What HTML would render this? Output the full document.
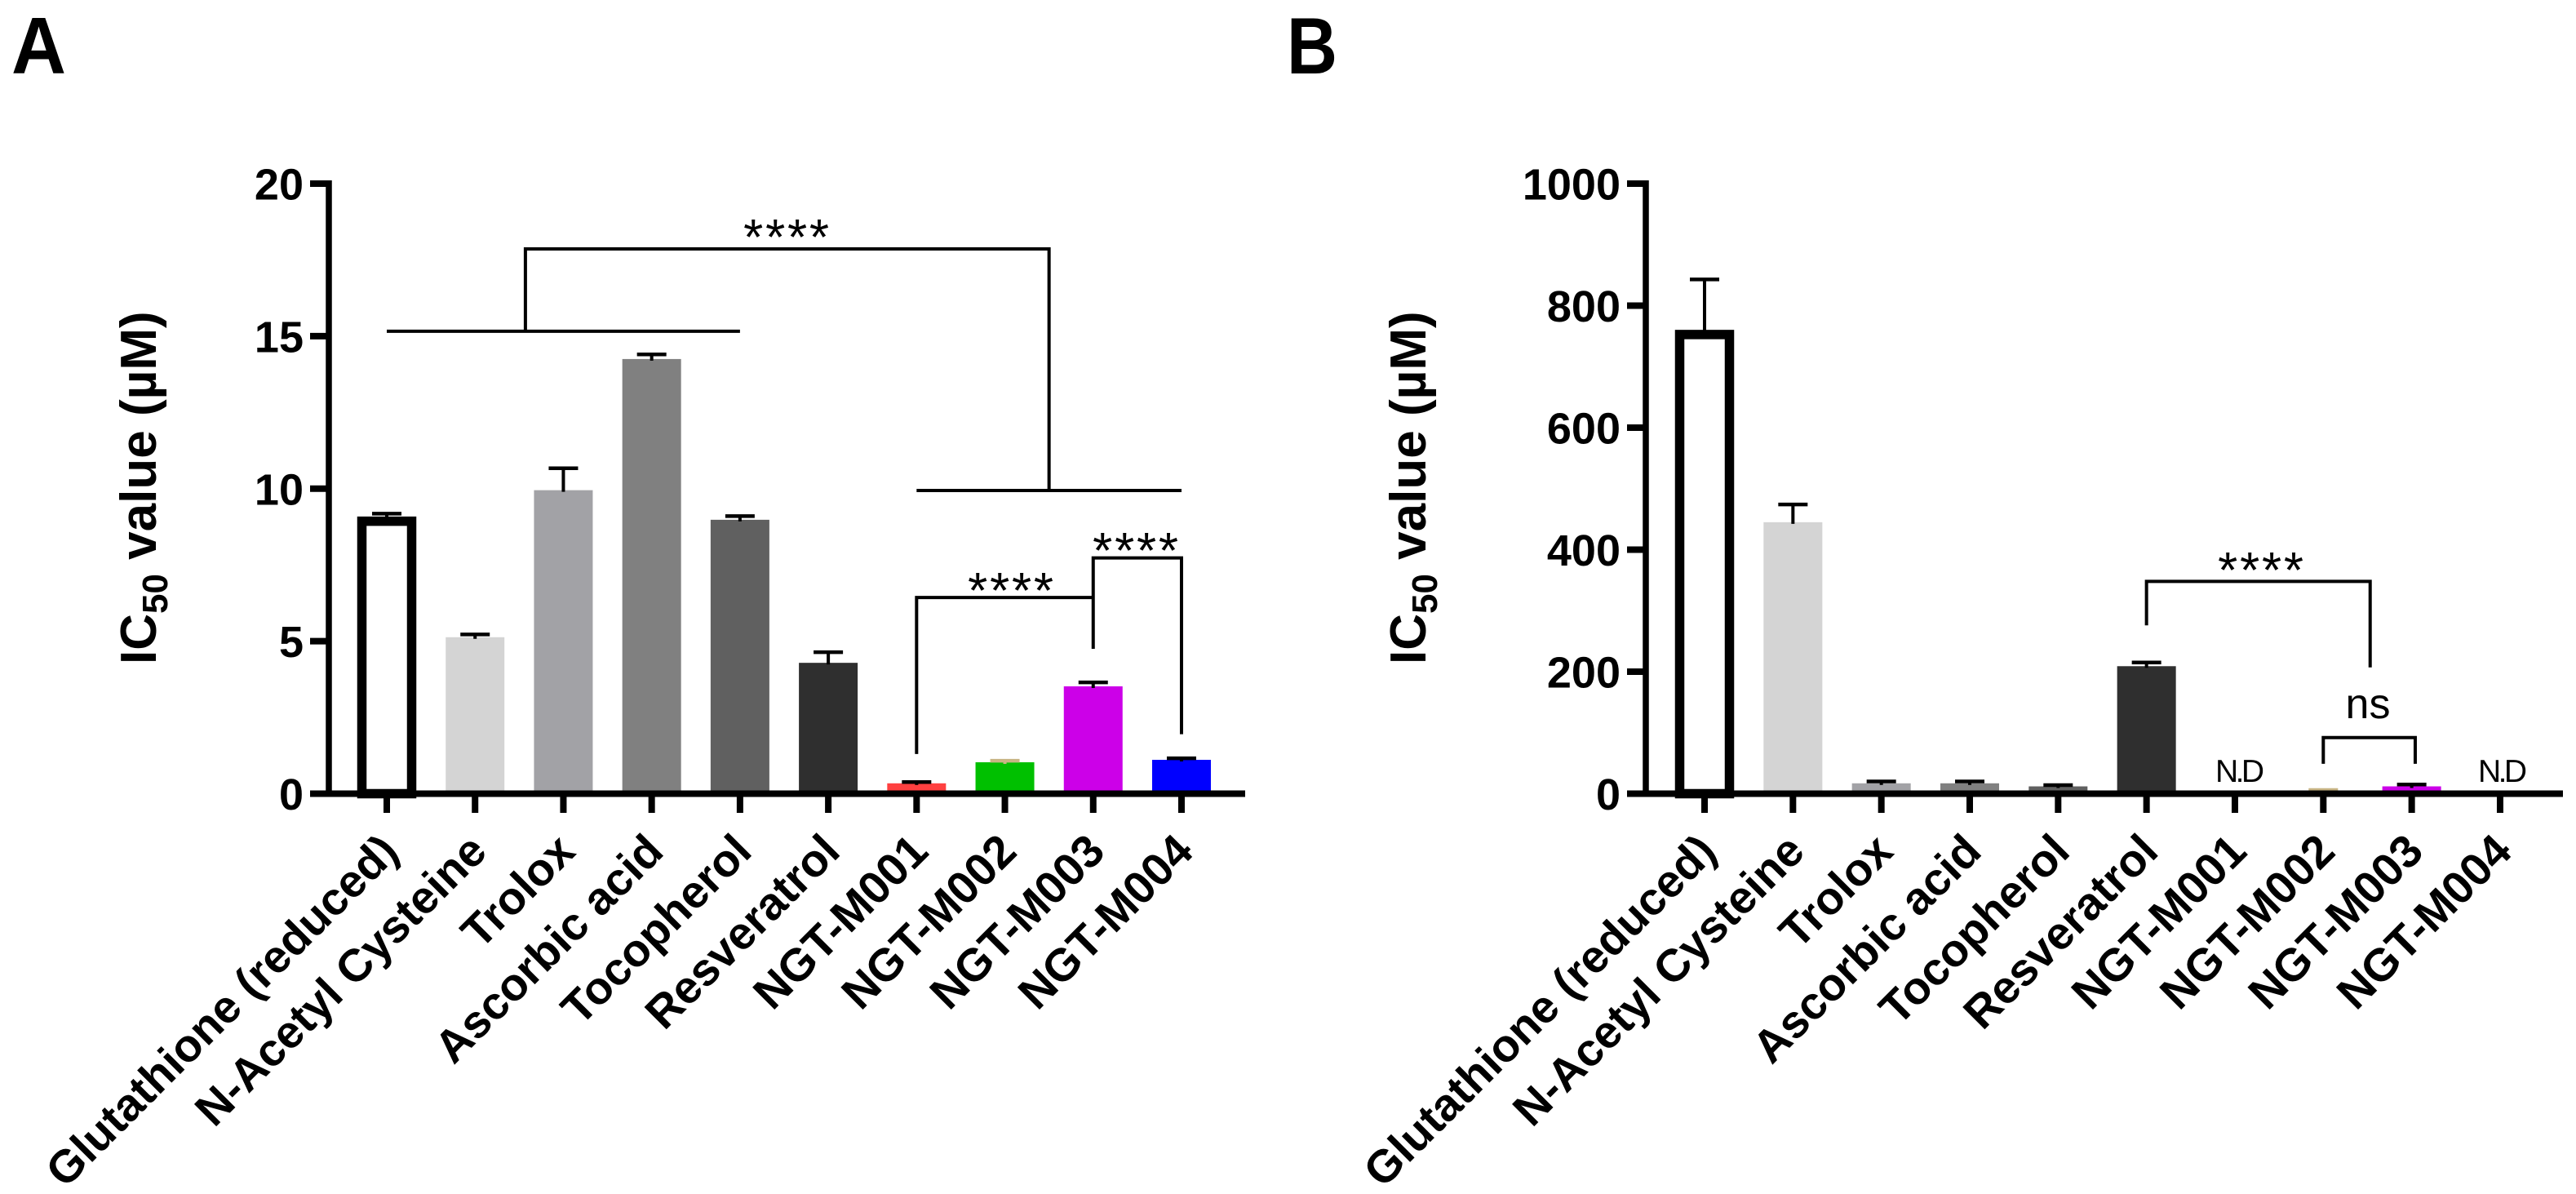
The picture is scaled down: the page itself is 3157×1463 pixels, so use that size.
<!DOCTYPE html>
<html lang="en">
<head>
<meta charset="utf-8">
<title>IC50 value charts</title>
<style>
html,body{margin:0;padding:0;background:#fff;}
svg{display:block;}
text{font-family:"Liberation Sans",Arial,sans-serif;fill:#000;}
</style>
</head>
<body>
<svg id="figure" xmlns="http://www.w3.org/2000/svg" width="3157" height="1463" viewBox="0 0 3157 1463">
<rect x="0" y="0" width="3157" height="1463" fill="#ffffff"/>
<text x="14" y="90" font-size="98" font-weight="700" textLength="67" lengthAdjust="spacingAndGlyphs">A</text>
<text x="1577" y="90" font-size="98" font-weight="700" textLength="62" lengthAdjust="spacingAndGlyphs">B</text>
</svg>
<script>
const categories = ["Glutathione (reduced)", "N-Acetyl Cysteine", "Trolox", "Ascorbic acid", "Tocopherol", "Resveratrol", "NGT-M001", "NGT-M002", "NGT-M003", "NGT-M004"];
const barColors = ["#ffffff", "#d4d4d4", "#a2a2a6", "#808080", "#606060", "#2f2f2f", "#ff4040", "#00c000", "#cc00e8", "#0000ff"];
const errorColors = ["#000000", "#000000", "#000000", "#000000", "#000000", "#000000", "#000000", "#c8b484", "#000000", "#000000"];
const valuesA = [9.08, 5.13, 9.95, 14.25, 8.98, 4.29, 0.34, 1.03, 3.52, 1.11];
const errorsA = [9.18, 5.22, 10.67, 14.4, 9.1, 4.64, 0.38, 1.08, 3.65, 1.16];
const valuesB = [760, 445, 17, 17, 12, 209, null, 3, 12, null];
const errorsB = [843, 474, 20, 20, 14, 215, null, 6, 15, null];
const ticksA = [0, 5, 10, 15, 20];
const ticksB = [0, 200, 400, 600, 800, 1000];
const maxA = 20;
const maxB = 1000;

const svg = document.getElementById('figure');
const NS = 'http://www.w3.org/2000/svg';
const yZero = 972.5;
const yTop = 225;

function add(tag, attrs, name, text) {
  const el = document.createElementNS(NS, tag);
  for (const k in attrs) el.setAttribute(k, attrs[k]);
  
  
  if (text !== undefined) el.textContent = text;
  svg.appendChild(el);
  return el;
}
function segment(x1, y1, x2, y2, w, name, color) {
  return add('line', {x1: x1, y1: y1, x2: x2, y2: y2, stroke: color || '#000', 'stroke-width': w}, name);
}
function bracketPath(d, name) {
  return add('path', {d: d, fill: 'none', stroke: '#000', 'stroke-width': 4}, name);
}

function drawPanel(p) {
  const X = i => p.x0 + i * p.step;
  const Y = v => yZero - v / p.max * (yZero - yTop);
  const pre = p.id + '-';

  // bars
  categories.forEach((c, i) => {
    const v = p.values[i];
    if (v === null) return;
    const top = Y(v);
    const slug = c.toLowerCase().replace(/[^a-z0-9]+/g, '-').replace(/-$/, '');
    if (i === 0) {
      add('rect', {x: X(i) - 30.5, y: top + 5.5, width: 61, height: yZero - top - 5.5, fill: '#fff', stroke: '#000', 'stroke-width': 11.5}, pre + 'bar-' + slug);
    } else {
      add('rect', {x: X(i) - 36, y: top, width: 72, height: yZero - top, fill: barColors[i]}, pre + 'bar-' + slug);
    }
    const e = Y(p.errors[i]);
    segment(X(i), top + 2, X(i), e, 4, pre + 'error-stem-' + slug, errorColors[i]);
    segment(X(i) - 18, e, X(i) + 18, e, 4.5, pre + 'error-cap-' + slug, errorColors[i]);
  });

  // axes
  segment(p.axisX, yTop - 4, p.axisX, yZero, 7.5, pre + 'y-axis');
  segment(p.axisX - 23, yZero, p.axisEnd, yZero, 8, pre + 'x-axis');

  // y ticks
  p.ticks.forEach(t => {
    segment(p.axisX - 23, Y(t), p.axisX, Y(t), 8, pre + 'y-tick-' + t);
    add('text', {x: p.axisX - 31, y: Y(t) + 19.5, 'font-size': 54, 'font-weight': 700, 'text-anchor': 'end'}, pre + 'y-tick-label-' + t, String(t));
  });

  // x ticks and labels
  categories.forEach((c, i) => {
    const slug = c.toLowerCase().replace(/[^a-z0-9]+/g, '-').replace(/-$/, '');
    segment(X(i), yZero + 3, X(i), 996, 8, pre + 'x-tick-' + slug);
    const lx = X(i) + 17, ly = 1046;
    add('text', {x: lx, y: ly, 'font-size': 56, 'font-weight': 700, 'text-anchor': 'end', transform: 'rotate(-45 ' + lx + ' ' + ly + ')'}, pre + 'x-tick-label-' + slug, c);
  });

  // y axis title
  const title = add('text', {x: p.titleX, y: 814, 'font-size': 62, 'font-weight': 700, 'text-anchor': 'start', transform: 'rotate(-90 ' + p.titleX + ' 814)'}, pre + 'y-axis-title');
  const parts = [['IC', 0, 62], ['50', 14, 44], [' value (\u00b5M)', -14, 62]];
  parts.forEach(q => {
    const ts = document.createElementNS(NS, 'tspan');
    ts.setAttribute('dy', q[1]);
    ts.setAttribute('font-size', q[2]);
    ts.textContent = q[0];
    title.appendChild(ts);
  });

  p.annot(X, Y, pre);
}

function stars(x, centerY, name) {
  add('text', {x: x, y: centerY + 33, 'font-size': 62, 'letter-spacing': 2.8, 'text-anchor': 'middle'}, name, '****');
}

drawPanel({
  id: 'panel-a', x0: 474, step: 108.22, axisX: 403, axisEnd: 1526, titleX: 191,
  max: maxA, ticks: ticksA, values: valuesA, errors: errorsA,
  annot(X, Y, pre) {
    const cx = 1.57;
    bracketPath('M' + X(0) + ' ' + Y(15.16) + 'H' + X(4), pre + 'group-line-standards');
    bracketPath('M' + X(6) + ' ' + Y(9.94) + 'H' + X(9), pre + 'group-line-ngt');
    bracketPath('M' + X(cx) + ' ' + Y(15.16) + 'V' + Y(17.86) + 'H' + X(7.5) + 'V' + Y(9.94), pre + 'bracket-groups');
    bracketPath('M' + X(6) + ' ' + Y(1.3) + 'V' + Y(6.43) + 'H' + X(8) + 'M' + X(8) + ' ' + Y(4.75) + 'V' + Y(7.73) + 'H' + X(9) + 'V' + Y(1.95), pre + 'bracket-ngt');
    stars(965, 279, pre + 'significance-groups');
    stars(1240, 712, pre + 'significance-m001-m003');
    stars(1393, 663, pre + 'significance-m003-m004');
  }
});

drawPanel({
  id: 'panel-b', x0: 2089, step: 108.33, axisX: 2017, axisEnd: 3141, titleX: 1747,
  max: maxB, ticks: ticksB, values: valuesB, errors: errorsB,
  annot(X, Y, pre) {
    bracketPath('M' + X(5) + ' ' + Y(276) + 'V' + Y(348) + 'H' + X(7.53) + 'V' + Y(207), pre + 'bracket-resveratrol');
    bracketPath('M' + X(7) + ' ' + Y(49) + 'V' + Y(92) + 'H' + X(8.04) + 'V' + Y(49), pre + 'bracket-ns');
    stars(2772, 687, pre + 'significance-resveratrol');
    add('text', {x: 2902, y: 880, 'font-size': 52, 'text-anchor': 'middle'}, pre + 'ns-label', 'ns');
    add('text', {x: 2745, y: 958, 'font-size': 39, 'text-anchor': 'middle', textLength: 60, lengthAdjust: 'spacing'}, pre + 'nd-label-m001', 'N.D');
    add('text', {x: 3067, y: 958, 'font-size': 39, 'text-anchor': 'middle', textLength: 60, lengthAdjust: 'spacing'}, pre + 'nd-label-m004', 'N.D');
  }
});
</script>
</body>
</html>
